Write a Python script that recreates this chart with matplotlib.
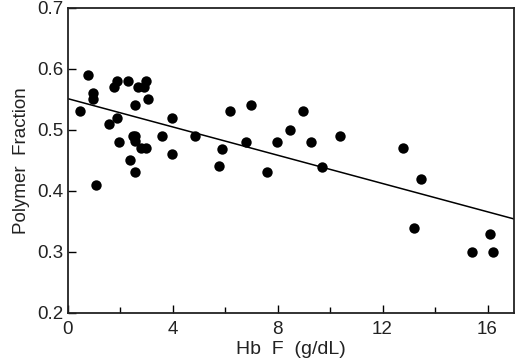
import numpy as np
import matplotlib.pyplot as plt
from matplotlib.ticker import MultipleLocator

plt.rcParams['font.family'] = ['Liberation Sans', 'DejaVu Sans']

# Hb F (g/dL) and polymer fraction
hbf = [0.46, 0.77, 0.97, 0.97, 1.07, 1.57, 1.76, 1.87, 1.89, 1.97,
       2.29, 2.37, 2.58, 2.48, 2.58, 2.58, 2.58, 2.68, 2.78, 2.90,
       2.99, 2.99, 3.08, 3.59, 3.99, 3.99, 4.87,
       6.19, 6.97, 8.97, 8.49, 6.78, 7.99, 9.28, 10.38, 5.89, 5.78,
       7.58, 9.68,
       12.78, 13.48, 13.19, 16.09, 15.40, 16.19]
polymer = [0.530, 0.590, 0.560, 0.550, 0.409, 0.510, 0.570, 0.580, 0.519, 0.480,
           0.580, 0.450, 0.540, 0.490, 0.489, 0.481, 0.430, 0.570, 0.470, 0.570,
           0.580, 0.470, 0.550, 0.490, 0.520, 0.460, 0.490,
           0.530, 0.540, 0.530, 0.500, 0.480, 0.480, 0.480, 0.490, 0.469, 0.440,
           0.430, 0.439,
           0.470, 0.420, 0.339, 0.330, 0.300, 0.300]

# regression line end points
fit_x = [0, 17]
fit_y = [0.551, 0.354]

fig = plt.figure(figsize=(5.2, 3.63), dpi=100)
ax = fig.add_axes([0.130, 0.138, 0.858, 0.841])

ax.plot(fit_x, fit_y, color='black', linewidth=1.1)
ax.scatter(hbf, polymer, s=56, color='black', zorder=3, linewidths=0)

ax.set_xlim(0, 17)
ax.set_ylim(0.2, 0.7)
ax.xaxis.set_major_locator(MultipleLocator(4))
ax.xaxis.set_minor_locator(MultipleLocator(2))
ax.set_yticks(np.arange(0.2, 0.71, 0.1))
ax.set_yticklabels(['0.2', '0.3', '0.4', '0.5', '0.6', '0.7'])

ax.tick_params(which='both', direction='in', top=False, right=False,
               labelsize=13.5, width=1.0, pad=3, labelcolor='#222222')
ax.tick_params(axis='x', which='both', pad=6)
ax.tick_params(which='major', length=6)
ax.tick_params(which='minor', length=4)
for s in ax.spines.values():
    s.set_linewidth(1.3)
    s.set_color('#222222')

ax.set_xlabel('Hb  F  (g/dL)', fontsize=14, labelpad=2, color='#222222')
ax.set_ylabel('Polymer  Fraction', fontsize=13.5, labelpad=5, color='#222222')

fig.savefig('out.png', dpi=100)
